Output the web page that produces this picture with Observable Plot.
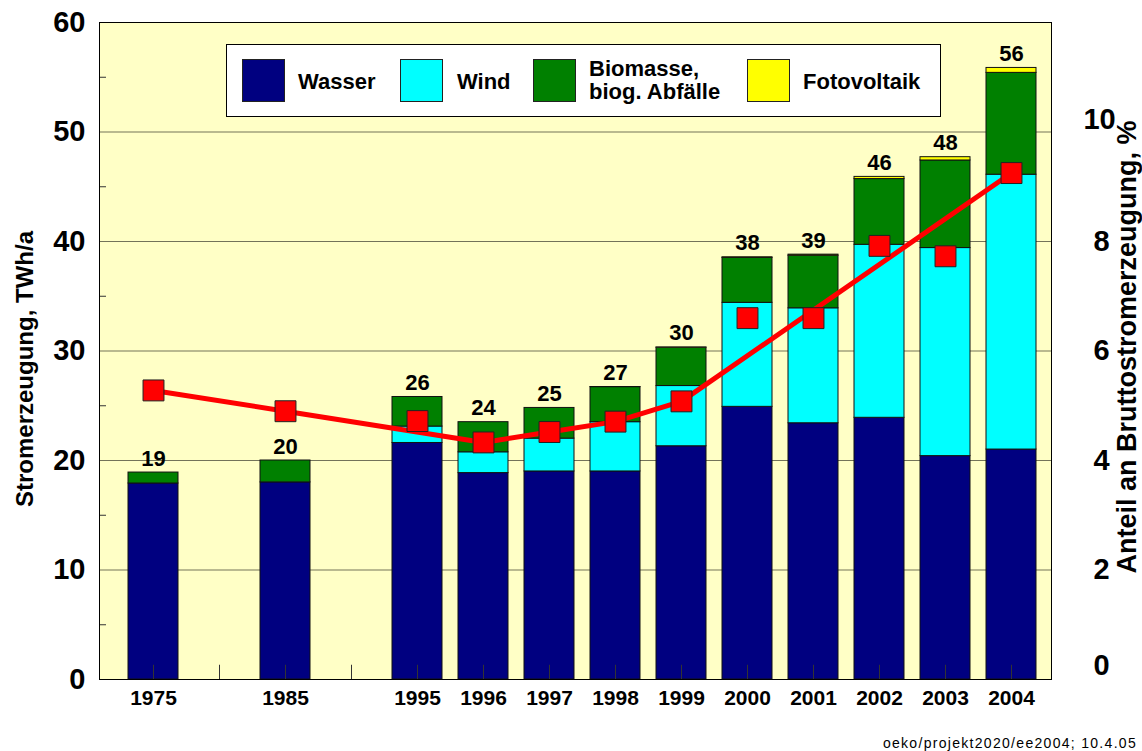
<!DOCTYPE html>
<html><head><meta charset="utf-8">
<script src="https://cdn.jsdelivr.net/npm/d3@7"></script>
<script src="https://cdn.jsdelivr.net/npm/@observablehq/plot@0.6"></script>
<style>
body{margin:0;background:#fff;font-family:"Liberation Sans",Arial,sans-serif;}
#wrap{position:relative;width:1142px;height:751px;overflow:hidden;}
#legend{position:absolute;left:226px;top:44px;width:715px;height:73px;box-sizing:border-box;background:#fff;border:1px solid #000;}
.sw{position:absolute;top:14px;width:43px;height:43px;box-sizing:border-box;border:1px solid #222;}
.lt{position:absolute;font-weight:bold;font-size:22px;color:#000;line-height:23px;white-space:nowrap;}
#foot{position:absolute;right:5px;top:735px;font-size:14px;letter-spacing:1.3px;color:#000;}
</style></head>
<body><div id="wrap"><div id="chart"></div><div id="legend"></div><div id="foot"></div></div>
<script>
// ---- data ----
const slots = ["1975","g1","1985","g2","1995","1996","1997","1998","1999","2000","2001","2002","2003","2004"];
const years = ["1975","1985","1995","1996","1997","1998","1999","2000","2001","2002","2003","2004"];
const wasser      = [17.9, 18.0, 21.6, 18.85, 19.0, 19.0, 21.3, 24.9, 23.4, 23.9, 20.4, 21.0];
const wind        = [0, 0, 1.5, 1.9, 3.0, 4.5, 5.5, 9.5, 10.5, 15.8, 19.0, 25.1];
const biomasse    = [1.0, 2.0, 2.7, 2.75, 2.8, 3.2, 3.5, 4.1, 4.8, 6.0, 8.0, 9.3];
const fotovoltaik = [0, 0, 0, 0, 0, 0.01, 0.02, 0.06, 0.1, 0.2, 0.3, 0.45];
const totalLabels = ["19","20","26","24","25","27","30","38","39","46","48","56"];
const shares      = [5.28, 4.9, 4.72, 4.33, 4.52, 4.71, 5.08, 6.6, 6.6, 7.92, 7.73, 9.25];
const lineYears   = ["1975","1985","1996","1997","1998","1999","2004"];
const sources = ["Wasser","Wind","Biomasse, biog. Abfälle","Fotovoltaik"];
const legendLines = [["Wasser"],["Wind"],["Biomasse,","biog. Abfälle"],["Fotovoltaik"]];
const colors  = ["#000080","#00FFFF","#008000","#FFFF00"];
const leftTicks  = [0,10,20,30,40,50,60];
const minorTicks = [5,15,25,35,45,55];
const rightTicks = [0,2,4,6,8,10];
const footnote = "oeko/projekt2020/ee2004; 10.4.05";

// ---- derived tables ----
const series = [wasser, wind, biomasse, fotovoltaik];
const long = [];
years.forEach((y,i) => series.forEach((s,k) => { if (s[i] > 0) long.push({year:y, source:sources[k], value:s[i]}); }));
const totals = years.map((y,i) => ({year:y, total: series.reduce((a,s)=>a+s[i],0), label: totalLabels[i]}));
const shareRows = years.map((y,i) => ({year:y, share:shares[i]}));
const lineRows = shareRows.filter(d => lineYears.includes(d.year));
const pct = 60/12; // right axis: 12 % ↔ 60 TWh/a

const font = "'Liberation Sans', Arial, sans-serif";
const chart = Plot.plot({
  width:1142, height:751,
  marginLeft:99, marginRight:91, marginTop:22, marginBottom:72,
  style:{fontFamily:font, background:"transparent", overflow:"visible"},
  x:{type:"band", domain:slots, range:[114,1051], paddingInner:0.24, paddingOuter:0.12, axis:null},
  y:{domain:[0,60], axis:null},
  color:{domain:sources, range:colors},
  marks:[
    Plot.frame({fill:"#FFFFC6", stroke:null}),
    Plot.ruleY([10,20,30,40,50], {stroke:"#000", strokeOpacity:0.55}),
    Plot.barY(long, {x:"year", y:"value", fill:"source", stroke:"#111", strokeWidth:1}),
    Plot.ruleX(slots, {x:d=>d, y1:0, y2:1.3, stroke:"#333"}),
    Plot.axisY({anchor:"left", ticks:minorTicks, tickSize:-7, tickFormat:()=>"", label:null, stroke:"#333"}),
    Plot.line(lineRows, {x:"year", y:d=>d.share*pct, stroke:"#FF0000", strokeWidth:5}),
    Plot.dot(shareRows, {x:"year", y:d=>d.share*pct, symbol:"square", r:11.8, fill:"#FF0000", stroke:"#222", strokeWidth:1}),
    Plot.text(totals, {x:"year", y:"total", text:"label", dy:-7, lineAnchor:"bottom", fontSize:22, fontWeight:"bold", fill:"#000"}),
    Plot.frame({stroke:"#000"}),
    // left axis labels
    Plot.text(leftTicks, {y:d=>d, text:d=>String(d), frameAnchor:"left", dx:-14, textAnchor:"end", fontSize:29, fontWeight:"bold", fill:"#000"}),
    // right axis labels
    Plot.text(rightTicks.filter(d=>d>0 && d<10), {y:d=>d*pct, text:d=>String(d), frameAnchor:"right", dx:50, textAnchor:"middle", fontSize:29, fontWeight:"bold", fill:"#000"}),
    Plot.text(rightTicks.filter(d=>d===0), {y:d=>d*pct, text:d=>String(d), frameAnchor:"right", dx:50, dy:-14, textAnchor:"middle", fontSize:29, fontWeight:"bold", fill:"#000"}),
    Plot.text(rightTicks.filter(d=>d===10), {y:d=>d*pct, text:d=>String(d), frameAnchor:"right", dx:48, dy:-12, textAnchor:"middle", fontSize:29, fontWeight:"bold", fill:"#000"}),
    // x labels
    Plot.text(slots, {x:d=>d, text:d=>d.startsWith("g")?"":d, frameAnchor:"bottom", dy:25, fontSize:21, fontWeight:"bold", fill:"#000"}),
    // axis titles
    Plot.text(["Stromerzeugung, TWh/a"], {frameAnchor:"left", dx:-74, dy:18, rotate:-90, textAnchor:"middle", fontSize:24, fontWeight:"bold", fill:"#000"}),
    Plot.text(["Anteil an Bruttostromerzeugung, %"], {frameAnchor:"right", dx:76, dy:-4, rotate:-90, textAnchor:"middle", fontSize:27, fontWeight:"bold", fill:"#000"})
  ]
});
document.getElementById("chart").appendChild(chart);

// ---- legend (HTML overlay inside plot area) ----
const lg = document.getElementById("legend");
const swX = [15,173,306,520], txX = [71,230,362,576];
sources.forEach((s,i) => {
  const sw = document.createElement("div");
  sw.className = "sw"; sw.style.left = swX[i]+"px"; sw.style.background = colors[i];
  lg.appendChild(sw);
  const t = document.createElement("div");
  t.className = "lt"; t.style.left = txX[i]+"px";
  const lines = legendLines[i];
  t.style.top = (lines.length === 1 ? 25 : 12) + "px";
  t.innerHTML = lines.join("<br>");
  lg.appendChild(t);
});
document.getElementById("foot").textContent = footnote;
</script></body></html>
